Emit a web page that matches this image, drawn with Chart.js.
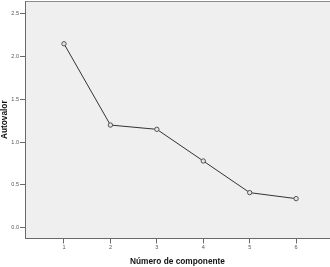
<!DOCTYPE html>
<html>
<head>
<meta charset="utf-8">
<script src="https://cdn.jsdelivr.net/npm/chart.js@4/dist/chart.umd.min.js"></script>
<style>
  html, body { margin: 0; padding: 0; background: #fff; }
  #wrap { width: 330px; height: 267px; }
</style>
</head>
<body>
<div id="wrap"><canvas id="scree"></canvas></div>
<script>
// data
const componentes = [1, 2, 3, 4, 5, 6];
const autovalores = [2.15, 1.20, 1.15, 0.78, 0.41, 0.34];
const yTicks = [0.0, 0.5, 1.0, 1.5, 2.0, 2.5];
const xTicks = [1, 2, 3, 4, 5, 6];

const fuente = "'Liberation Sans', Arial, sans-serif";

// grey plot area + top border like the SPSS output
const fondo = {
  id: 'fondo',
  beforeDraw(chart) {
    const a = chart.chartArea;
    const c = chart.ctx;
    c.save();
    c.fillStyle = '#efefef';
    c.fillRect(a.left, a.top, a.right - a.left, a.bottom - a.top);
    c.strokeStyle = '#8a8a8a';
    c.lineWidth = 1;
    c.beginPath();
    c.moveTo(a.left, a.top + 0.5);
    c.lineTo(a.right, a.top + 0.5);
    c.stroke();
    c.restore();
  }
};

// no extra room for the tick labels, the chart area is fixed
function sinPadding(s) {
  s.paddingTop = 0;
  s.paddingBottom = 0;
  s.paddingLeft = 0;
  s.paddingRight = 0;
}

let ctx = document.getElementById('scree').getContext('2d');

let grafico = new Chart(ctx, {
  type: 'line',
  data: {
    datasets: [{
      data: componentes.map((c, i) => ({ x: c, y: autovalores[i] })),
      borderColor: '#333',
      borderWidth: 1,
      pointRadius: 2.2,
      pointBorderWidth: 1,
      pointBorderColor: '#555',
      pointBackgroundColor: '#e4e4e4',
      tension: 0
    }]
  },
  options: {
    responsive: true,
    maintainAspectRatio: false,
    animation: false,
    events: [],
    layout: { autoPadding: false, padding: { top: 1, left: 0, right: 0, bottom: 0 } },
    plugins: { legend: { display: false }, tooltip: { enabled: false } },
    scales: {
      x: {
        type: 'linear',
        min: 0.16,
        max: 6.73,
        afterBuildTicks: s => { s.ticks = xTicks.map(v => ({ value: v })); },
        afterFit: s => { s.height = 28.5; sinPadding(s); },
        border: { color: '#6a6a6a', width: 1 },
        grid: { drawOnChartArea: false, drawTicks: true, tickLength: 5, color: '#6a6a6a' },
        ticks: { color: '#555', font: { family: fuente, size: 5.5 }, padding: 1, maxRotation: 0 },
        title: {
          display: true,
          text: 'Número de componente',
          color: '#111',
          font: { family: fuente, size: 8.3, weight: 'bold' },
          padding: { top: 0, bottom: 0 }
        }
      },
      y: {
        min: -0.126,
        max: 2.65,
        afterBuildTicks: s => { s.ticks = yTicks.map(v => ({ value: v })); },
        afterFit: s => { s.width = 25; sinPadding(s); },
        border: { color: '#6a6a6a', width: 1 },
        grid: { drawOnChartArea: false, drawTicks: true, tickLength: 5, color: '#6a6a6a' },
        ticks: {
          color: '#555',
          font: { family: fuente, size: 5.5 },
          padding: 1,
          callback: v => v.toFixed(1)
        },
        title: {
          display: true,
          text: 'Autovalor',
          color: '#111',
          font: { family: fuente, size: 8.3, weight: 'bold' },
          padding: { top: 0, bottom: 0 }
        }
      }
    }
  },
  plugins: [fondo]
});
</script>
</body>
</html>
